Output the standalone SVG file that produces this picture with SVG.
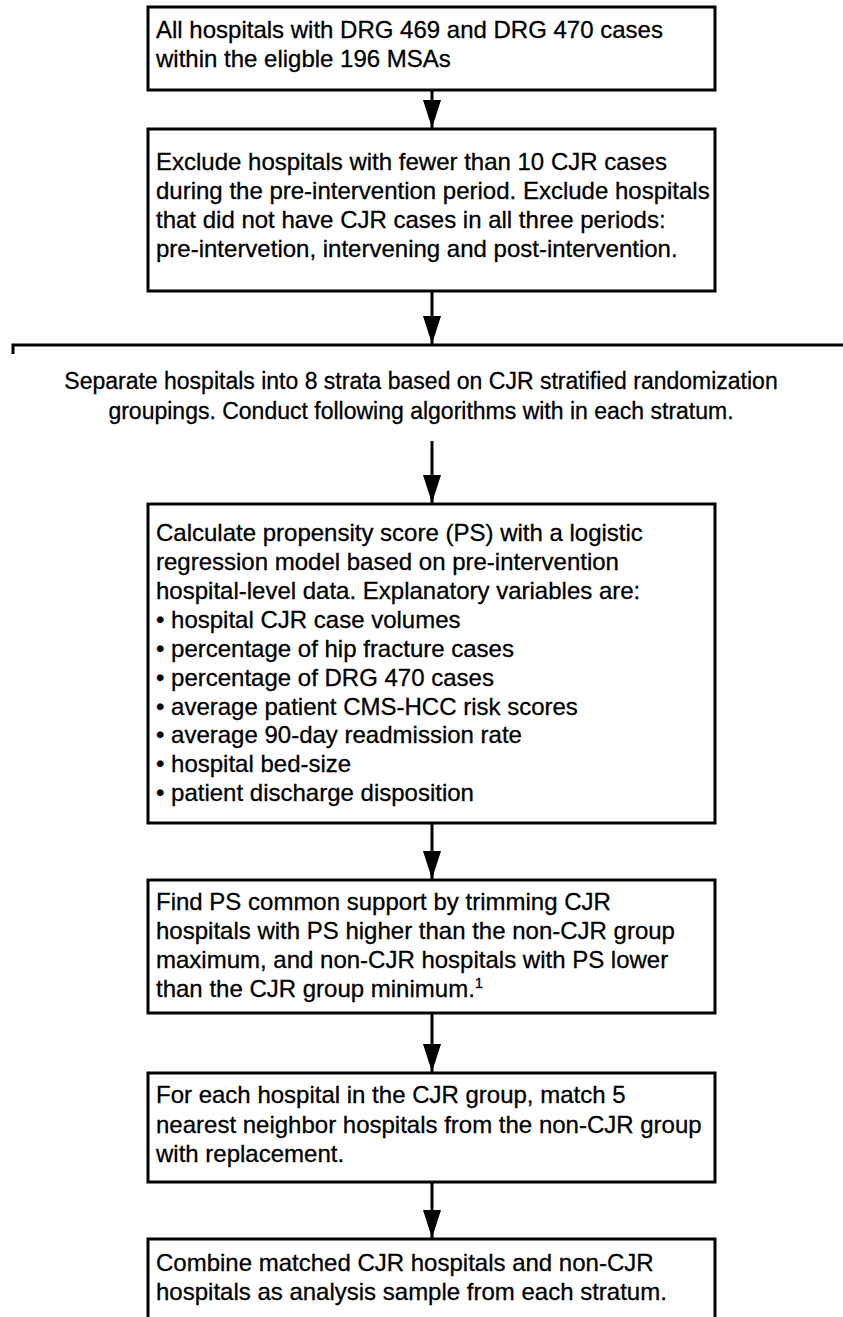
<svg xmlns="http://www.w3.org/2000/svg" width="843" height="1317" viewBox="0 0 843 1317">
<style>
.box{fill:#fff;stroke:#000;stroke-width:3}
.t{font-family:"Liberation Sans",Arial,sans-serif;font-size:24px;fill:#000;stroke:#000;stroke-width:0.3}
.m{font-size:23px;text-anchor:middle}
.ln{stroke:#000;stroke-width:3;fill:none}
</style>
<defs>
<marker id="ah" markerWidth="28" markerHeight="18" refX="28" refY="9" orient="auto" markerUnits="userSpaceOnUse" viewBox="0 0 28 18">
<path d="M0,0 L28,9 L0,18 Z" fill="#000"/>
</marker>
</defs>
<rect width="843" height="1317" fill="#fff"/>
<g id="connectors">
<line class="ln" x1="432" y1="90" x2="432" y2="128" marker-end="url(#ah)"/>
<line class="ln" x1="432" y1="291" x2="432" y2="344" marker-end="url(#ah)"/>
<line class="ln" x1="432" y1="441" x2="432" y2="503" marker-end="url(#ah)"/>
<line class="ln" x1="432" y1="823" x2="432" y2="879" marker-end="url(#ah)"/>
<line class="ln" x1="432" y1="1013" x2="432" y2="1072" marker-end="url(#ah)"/>
<line class="ln" x1="432" y1="1182" x2="432" y2="1238" marker-end="url(#ah)"/>
</g>
<g id="n1">
<rect class="box" x="148" y="7" width="567" height="83"/>
<text class="t" x="156" y="38">All hospitals with DRG 469 and DRG 470 cases</text>
<text class="t" x="156" y="67">within the eligble 196 MSAs</text>
</g>
<g id="n2">
<rect class="box" x="148" y="129" width="567" height="162"/>
<text class="t" x="156" y="170">Exclude hospitals with fewer than 10 CJR cases</text>
<text class="t" x="156" y="199">during the pre-intervention period. Exclude hospitals</text>
<text class="t" x="156" y="228">that did not have CJR cases in all three periods:</text>
<text class="t" x="156" y="257">pre-intervetion, intervening and post-intervention.</text>
</g>
<g id="n3">
<path class="ln" d="M13,354 V345 H845"/>
<text class="t m" x="421" y="389">Separate hospitals into 8 strata based on CJR stratified randomization</text>
<text class="t m" x="421" y="419">groupings. Conduct following algorithms with in each stratum.</text>
</g>
<g id="n4">
<rect class="box" x="148" y="504" width="567" height="319"/>
<text class="t" x="156" y="541">Calculate propensity score (PS) with a logistic</text>
<text class="t" x="156" y="570">regression model based on pre-intervention</text>
<text class="t" x="156" y="599">hospital-level data. Explanatory variables are:</text>
<text class="t" x="156" y="628">• hospital CJR case volumes</text>
<text class="t" x="156" y="657">• percentage of hip fracture cases</text>
<text class="t" x="156" y="686">• percentage of DRG 470 cases</text>
<text class="t" x="156" y="715">• average patient CMS-HCC risk scores</text>
<text class="t" x="156" y="743">• average 90-day readmission rate</text>
<text class="t" x="156" y="772">• hospital bed-size</text>
<text class="t" x="156" y="801">• patient discharge disposition</text>
</g>
<g id="n5">
<rect class="box" x="148" y="880" width="567" height="133"/>
<text class="t" x="156" y="910">Find PS common support by trimming CJR</text>
<text class="t" x="156" y="939">hospitals with PS higher than the non-CJR group</text>
<text class="t" x="156" y="968">maximum, and non-CJR hospitals with PS lower</text>
<text class="t" x="156" y="997">than the CJR group minimum.<tspan font-size="15" dy="-9">1</tspan></text>
</g>
<g id="n6">
<rect class="box" x="148" y="1073" width="567" height="109"/>
<text class="t" x="156" y="1103">For each hospital in the CJR group, match 5</text>
<text class="t" x="156" y="1133">nearest neighbor hospitals from the non-CJR group</text>
<text class="t" x="156" y="1162">with replacement.</text>
</g>
<g id="n7">
<rect class="box" x="148" y="1239" width="567" height="100"/>
<text class="t" x="156" y="1271">Combine matched CJR hospitals and non-CJR</text>
<text class="t" x="156" y="1300">hospitals as analysis sample from each stratum.</text>
</g>
</svg>
